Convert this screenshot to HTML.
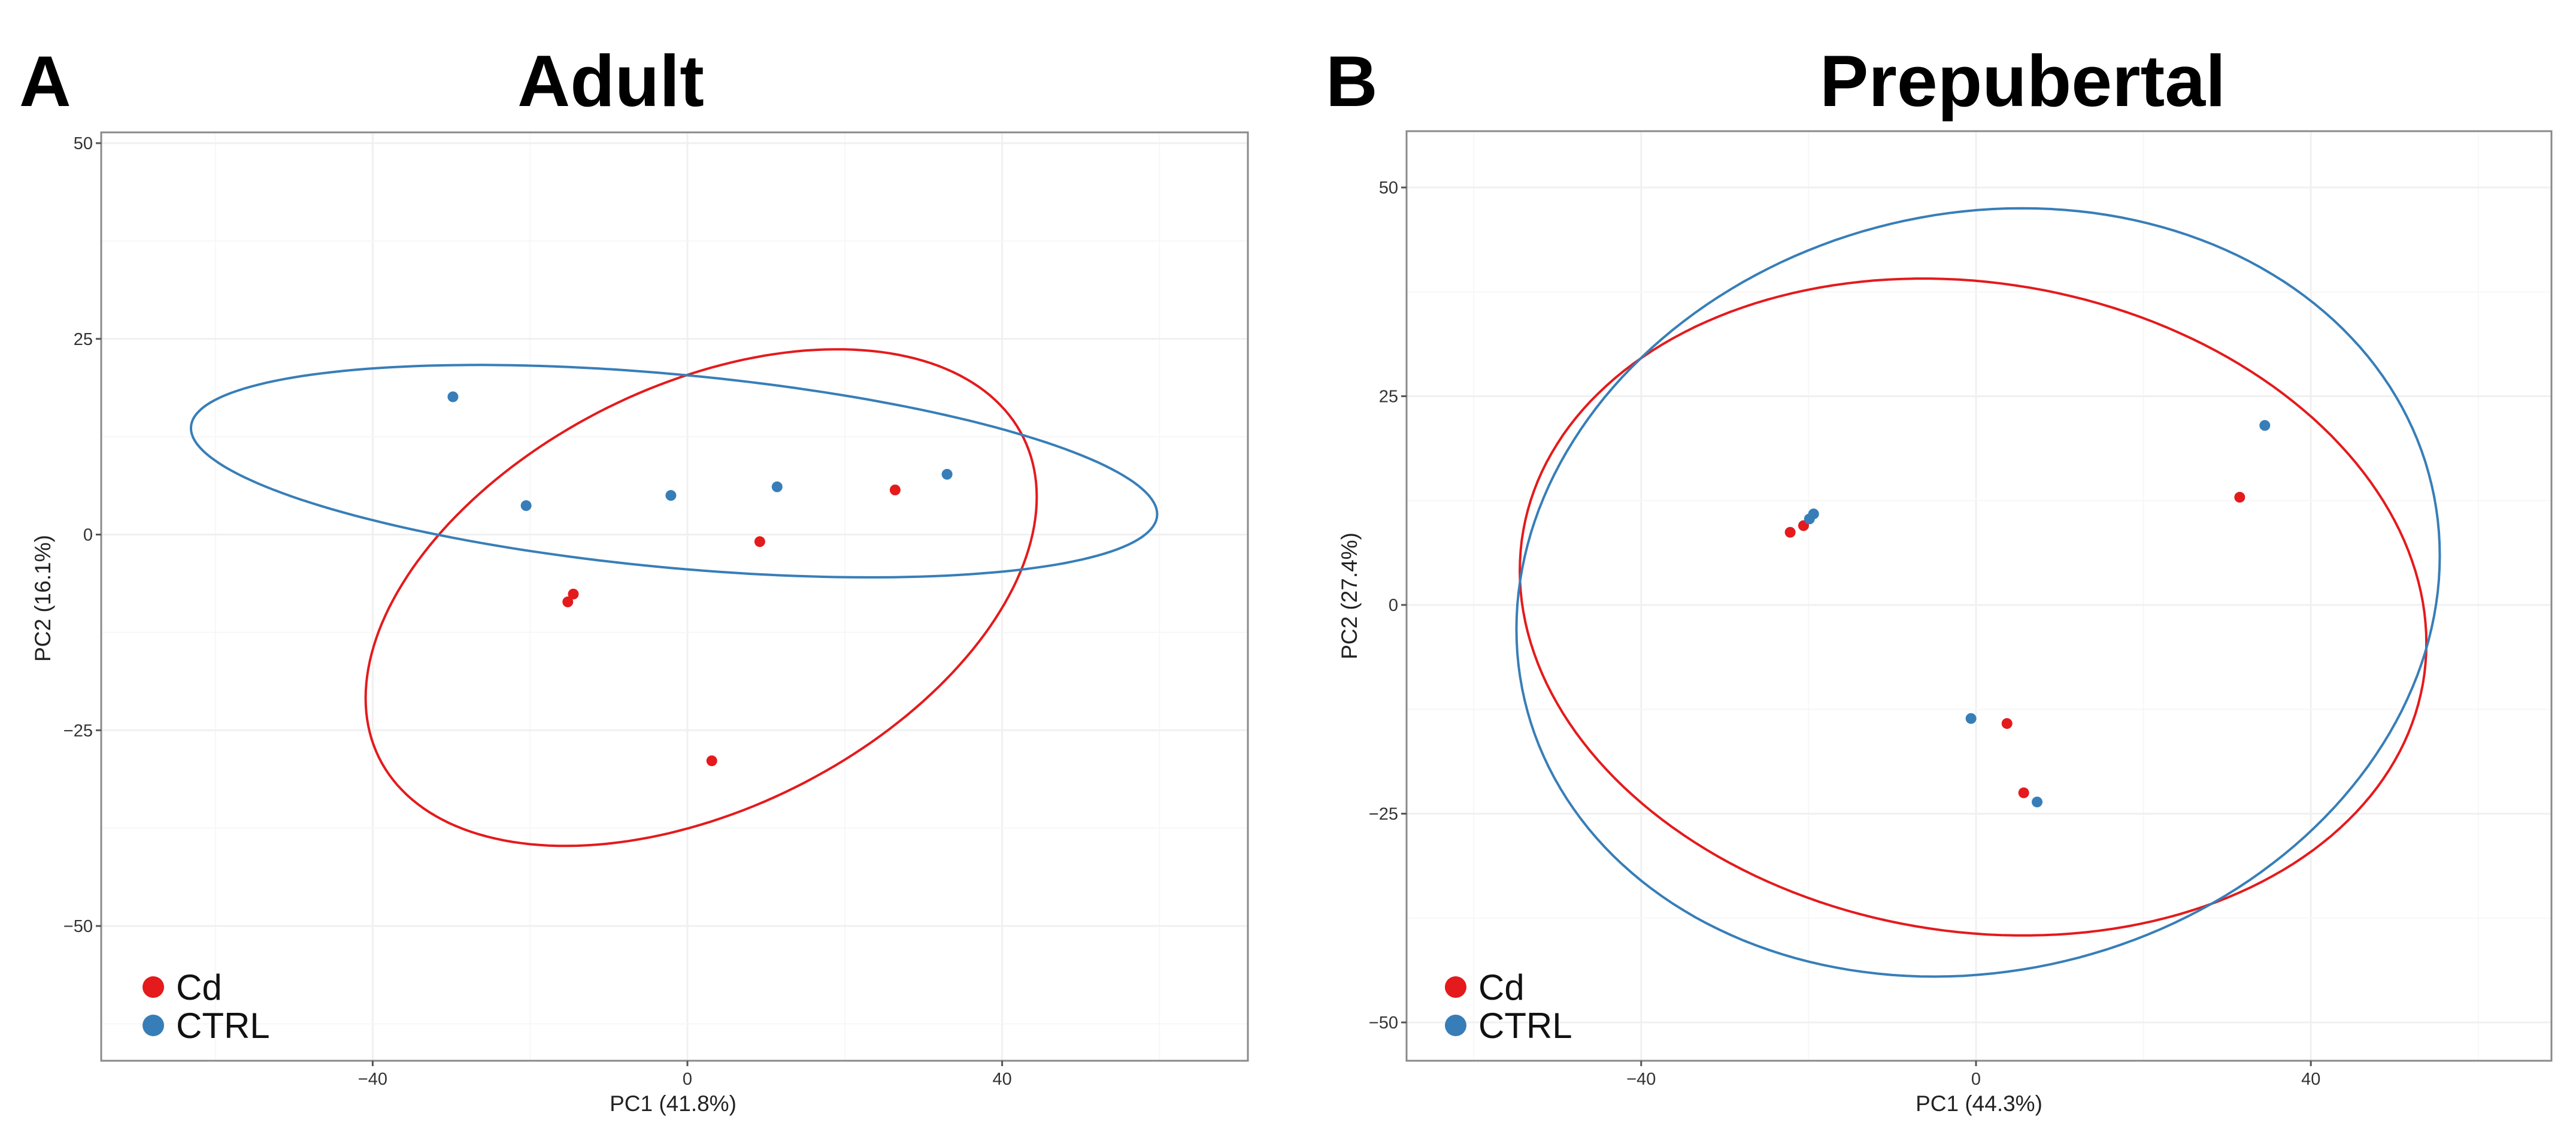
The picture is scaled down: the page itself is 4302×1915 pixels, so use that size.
<!DOCTYPE html>
<html><head><meta charset="utf-8">
<style>
html,body{margin:0;padding:0;background:#fff;}
svg{display:block;font-family:"Liberation Sans",Arial,sans-serif;}
</style></head>
<body>
<svg id="chart" width="4302" height="1915" viewBox="0 0 4302 1915" xmlns="http://www.w3.org/2000/svg">
  <text x="32" y="177" font-size="120" font-weight="bold">A</text>
  <text x="1020" y="177" font-size="122" font-weight="bold" text-anchor="middle">Adult</text>
  <text x="2214" y="177" font-size="120" font-weight="bold">B</text>
  <text x="3378" y="177" font-size="122" font-weight="bold" text-anchor="middle">Prepubertal</text>
  <g id="panelA"></g>
  <g id="panelB"></g>
</svg>
<script>
// ---- Panel A (Adult) data ----
const adultCdX = [26.4, 9.2, -14.5, -15.2, 3.1];
const adultCdY = [5.7, -0.9, -7.6, -8.6, -28.9];
const adultCtrlX = [-29.8, -20.5, -2.1, 11.4, 33.0];
const adultCtrlY = [17.6, 3.7, 5.0, 6.1, 7.7];
// ellipse params: [cx, cy, a, b, c]  (x = cx + a cos t, y = cy + b sin t + c cos t)
const adultCdEllipse = [1.75, -8.05, 42.65, 29.0, 12.85];
const adultCtrlEllipse = [-1.7, 8.1, 61.4, 12.4, -5.5];
const adultXTicks = [-40, 0, 40];
const adultYTicks = [-50, -25, 0, 25, 50];
// ---- Panel B (Prepubertal) data ----
const preCdX = [-22.2, -20.6, 31.5, 3.7, 5.7];
const preCdY = [8.7, 9.5, 12.9, -14.2, -22.5];
const preCtrlX = [-19.9, -19.4, 34.5, -0.6, 7.3];
const preCtrlY = [10.3, 10.9, 21.5, -13.6, -23.6];
const preCdEllipse = [-0.35, -0.25, 54.15, 39.1, -4.35];
const preCtrlEllipse = [0.25, 1.5, 55.15, 45.8, 4.4];
const preXTicks = [-40, 0, 40];
const preYTicks = [-50, -25, 0, 25, 50];
const legendLabels = ["Cd", "CTRL"];

const RED = "#E41A1C", BLUE = "#377EB8";
const NS = "http://www.w3.org/2000/svg";
function mk(parent, tag, attrs) {
  const e = document.createElementNS(NS, tag);
  for (const k in attrs) e.setAttribute(k, attrs[k]);
  parent.appendChild(e);
  return e;
}

function drawPanel(g, cfg) {
  const L = cfg.left, R = cfg.right, T = cfg.top, B = cfg.bottom;
  const sx = v => cfg.x0 + v * cfg.kx;
  const sy = v => cfg.y0 - v * cfg.ky;
  const xMin = (L - cfg.x0) / cfg.kx, xMax = (R - cfg.x0) / cfg.kx;
  const yMin = (cfg.y0 - B) / cfg.ky, yMax = (cfg.y0 - T) / cfg.ky;
  const xs = cfg.xTicks, ys = cfg.yTicks;
  const xStep = xs[1] - xs[0], yStep = ys[1] - ys[0];
  for (let v = Math.ceil(xMin / (xStep / 2)) * (xStep / 2); v <= xMax; v += xStep / 2) {
    const major = xs.includes(v);
    const l = mk(g, "line", {x1: sx(v), x2: sx(v), y1: T, y2: B, stroke: major ? "#f0f0f0" : "#f7f7f7", "stroke-width": major ? 3 : 2});
    
    
  }
  for (let v = Math.ceil(yMin / (yStep / 2)) * (yStep / 2); v <= yMax; v += yStep / 2) {
    const major = ys.includes(v);
    const l = mk(g, "line", {x1: L, x2: R, y1: sy(v), y2: sy(v), stroke: major ? "#f0f0f0" : "#f7f7f7", "stroke-width": major ? 3 : 2});
    
    
  }
  function ell(p, color, name) {
    let d = "";
    for (let i = 0; i <= 200; i++) {
      const t = i / 200 * 2 * Math.PI;
      const x = p[0] + p[2] * Math.cos(t);
      const y = p[1] + p[3] * Math.sin(t) + p[4] * Math.cos(t);
      d += (i ? "L" : "M") + sx(x).toFixed(1) + "," + sy(y).toFixed(1);
    }
    const e = mk(g, "path", {d: d + "Z", fill: "none", stroke: color, "stroke-width": 4});
    
    
  }
  ell(cfg.cdEll, RED, 'cd-ellipse');
  ell(cfg.ctrlEll, BLUE, 'ctrl-ellipse');
  function pts(X, Y, color, name) {
    X.forEach((v, i) => {
      const c = mk(g, "circle", {cx: sx(v), cy: sy(Y[i]), r: 9, fill: color});
      
      
    });
  }
  pts(cfg.cdX, cfg.cdY, RED, 'cd-point');
  pts(cfg.ctrlX, cfg.ctrlY, BLUE, 'ctrl-point');
  const fr = mk(g, "rect", {x: L, y: T, width: R - L, height: B - T, fill: "none", stroke: "#8a8a8a", "stroke-width": 3});
  
  
  xs.forEach(v => {
    const t = mk(g, "line", {x1: sx(v), x2: sx(v), y1: B, y2: B + 9, stroke: "#555", "stroke-width": 3});
    
    
    const tx = mk(g, "text", {x: sx(v), y: B + 40, "font-size": 29, "text-anchor": "middle", fill: "#333"});
    tx.textContent = v < 0 ? "\u2212" + Math.abs(v) : String(v);
    
    
  });
  ys.forEach(v => {
    const t = mk(g, "line", {x1: L - 9, x2: L, y1: sy(v), y2: sy(v), stroke: "#555", "stroke-width": 3});
    
    
    const tx = mk(g, "text", {x: L - 14, y: sy(v) + 10, "font-size": 29, "text-anchor": "end", fill: "#333"});
    tx.textContent = v < 0 ? "\u2212" + Math.abs(v) : String(v);
    
    
  });
  const xt = mk(g, "text", {x: cfg.xTitleX, y: 1855, "font-size": 37, "text-anchor": "middle", fill: "#222"});
  xt.textContent = cfg.xTitle;
  
  
  const yt = mk(g, "text", {x: 0, y: 0, "font-size": 37, "text-anchor": "middle", fill: "#222",
    transform: "translate(" + cfg.yTitleX + "," + cfg.yTitleY + ") rotate(-90)"});
  yt.textContent = cfg.yTitle;
  
  
  const cols = [RED, BLUE], ly = [1648, 1712];
  legendLabels.forEach((lab, i) => {
    const c = mk(g, "circle", {cx: cfg.legDotX, cy: ly[i], r: 18, fill: cols[i]});
    
    
    const t = mk(g, "text", {x: cfg.legDotX + 38, y: ly[i] + 21, "font-size": 60, fill: "#111"});
    t.textContent = lab;
    
    
  });
}

drawPanel(document.getElementById("panelA"), {
  left: 169, right: 2084, top: 221, bottom: 1771,
  x0: 1148, kx: 13.14, y0: 892.5, ky: 13.07,
  xTicks: adultXTicks, yTicks: adultYTicks,
  cdX: adultCdX, cdY: adultCdY, ctrlX: adultCtrlX, ctrlY: adultCtrlY,
  cdEll: adultCdEllipse, ctrlEll: adultCtrlEllipse,
  xTitle: "PC1 (41.8%)", yTitle: "PC2 (16.1%)",
  xTitleX: 1124, yTitleX: 84, yTitleY: 999, legDotX: 256
});
drawPanel(document.getElementById("panelB"), {
  left: 2349, right: 4261, top: 219, bottom: 1771,
  x0: 3300, kx: 13.98, y0: 1010, ky: 13.94,
  xTicks: preXTicks, yTicks: preYTicks,
  cdX: preCdX, cdY: preCdY, ctrlX: preCtrlX, ctrlY: preCtrlY,
  cdEll: preCdEllipse, ctrlEll: preCtrlEllipse,
  xTitle: "PC1 (44.3%)", yTitle: "PC2 (27.4%)",
  xTitleX: 3305, yTitleX: 2266, yTitleY: 995, legDotX: 2431
});
</script>
</body></html>
